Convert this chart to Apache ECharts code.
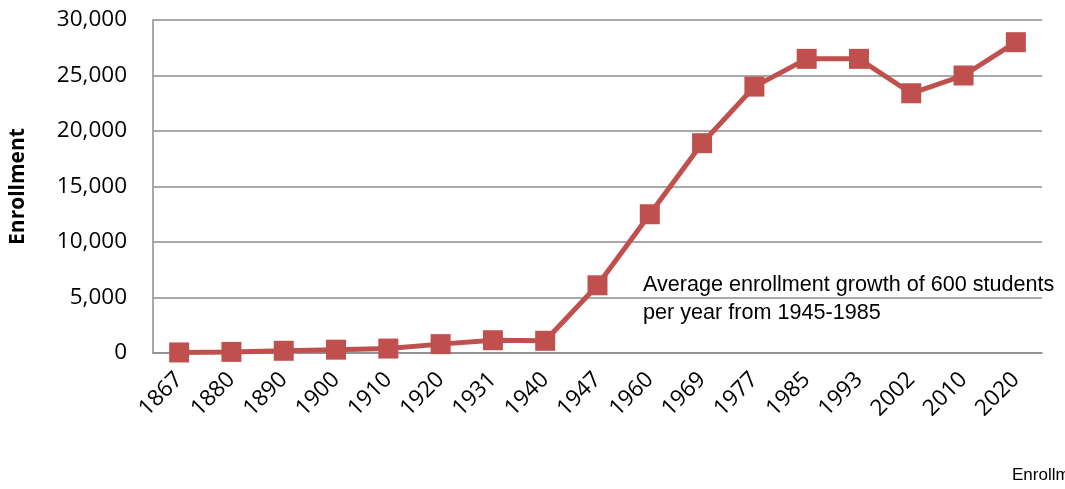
<!DOCTYPE html>
<html><head><meta charset="utf-8">
<script src="https://cdn.jsdelivr.net/npm/echarts@6/dist/echarts.min.js"></script>
<style>html,body{margin:0;padding:0;background:#fff}#c{width:1065px;height:489px}</style>
</head><body><div id="c"></div>
<script>
const years = ['1867','1880','1890','1900','1910','1920','1931','1940','1947','1960','1969','1977','1985','1993','2002','2010','2020'];
const enrollment = [50,100,200,300,400,800,1150,1100,6100,12500,18900,24000,26500,26500,23400,25000,28000];
const yTicks = {min:0, max:30000, interval:5000};
const annotationText = 'Average enrollment growth of 600 students\nper year from 1945-1985';

const chart = echarts.init(document.getElementById('c'));
chart.setOption({
  animation:false,
  grid:{left:153,right:23,top:20,bottom:136,containLabel:false,outerBoundsMode:'none'},
  xAxis:{type:'category',data:years,boundaryGap:true,
    axisLine:{lineStyle:{color:'#8c8c8c',width:1.5}},
    axisTick:{show:false},
    axisLabel:{rotate:45,fontFamily:'Open Sans',fontSize:22.5,color:'#000',margin:23}},
  yAxis:{type:'value',min:yTicks.min,max:yTicks.max,interval:yTicks.interval,
    name:'Enrollment',nameLocation:'middle',nameGap:124,
    nameTextStyle:{fontFamily:'Open Sans',fontWeight:'bold',fontSize:21,color:'#000'},
    axisLine:{show:true,lineStyle:{color:'#8c8c8c',width:1.5}},
    axisTick:{show:false},
    splitLine:{lineStyle:{color:'#8c8c8c',width:1.5}},
    axisLabel:{fontFamily:'Open Sans',fontSize:22.5,color:'#000',margin:26,
      formatter:v=>v.toLocaleString('en-US')}},
  series:[{type:'line',data:enrollment,symbol:'rect',symbolSize:20,
    lineStyle:{color:'#C0504D',width:5},
    itemStyle:{color:'#C0504D'}}],
  graphic:[
    {type:'text',left:643,top:271,style:{text:annotationText,fontFamily:'Liberation Sans',fontSize:21.6,lineHeight:28,fill:'#000'}},
    {type:'text',left:1012,top:467,style:{text:'Enrollment',fontFamily:'Liberation Sans',fontSize:17,fill:'#000'}}
  ]
});
</script></body></html>
